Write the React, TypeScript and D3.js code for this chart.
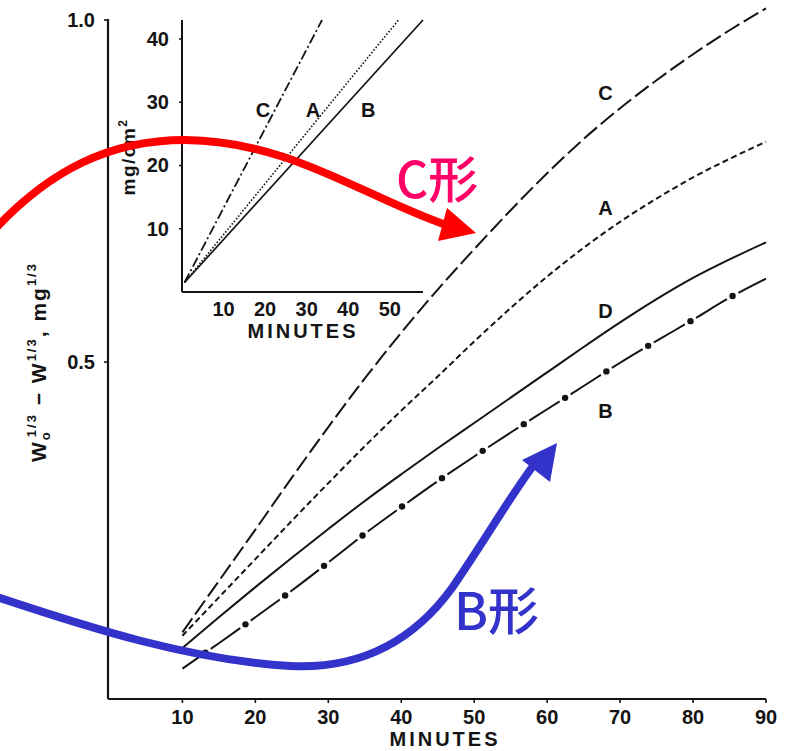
import React, { useEffect, useRef } from "react";
import * as d3 from "d3";

const WIDTH = 787;
const HEIGHT = 751;

// Main panel: W0^(1/3) - W^(1/3) against time, four dissolution curves
const minutes = [10, 15, 20, 25, 30, 35, 40, 45, 50, 55, 60, 65, 70, 75, 80, 85, 90];
const curveC = [0.105, 0.18, 0.255, 0.331, 0.405, 0.476, 0.543, 0.606, 0.665, 0.722, 0.776, 0.826, 0.871, 0.912, 0.95, 0.985, 1.017];
const curveA = [0.1, 0.156, 0.212, 0.268, 0.323, 0.377, 0.429, 0.479, 0.53, 0.579, 0.625, 0.667, 0.705, 0.739, 0.77, 0.797, 0.822];
const curveD = [0.082, 0.127, 0.171, 0.214, 0.256, 0.297, 0.336, 0.374, 0.411, 0.448, 0.485, 0.522, 0.558, 0.592, 0.623, 0.65, 0.675];
const curveB = [0.052, 0.089, 0.127, 0.166, 0.207, 0.249, 0.288, 0.326, 0.362, 0.397, 0.431, 0.465, 0.499, 0.531, 0.562, 0.594, 0.622];

const xTicks = [10, 20, 30, 40, 50, 60, 70, 80, 90];
const yTicks = [0.5, 1.0];

// Curve letters: [name, minutes, value]
const curveLabels: [string, number, number][] = [
  ["C", 68, 0.895],
  ["A", 68, 0.727],
  ["D", 68, 0.576],
  ["B", 68, 0.43],
];

// Inset: cumulative loss (mg/cm2) against time, straight lines
const insetTimeC = [0.6, 33.7];
const insetLossC = [1.5, 43];
const insetTimeA = [0.6, 52.1];
const insetLossA = [1.5, 43];
const insetTimeB = [0.6, 58];
const insetLossB = [1.5, 43];
const insetXTicks = [10, 20, 30, 40, 50];
const insetYTicks = [10, 20, 30, 40];
const insetLabels: [string, number, number][] = [
  ["C", 19.5, 29],
  ["A", 31.5, 29],
  ["B", 44.8, 29],
];

const INK = "#141414";
const FONT = "'Liberation Sans', Arial, Helvetica, sans-serif";
const CJK = "'Noto Sans CJK JP', 'Noto Sans', sans-serif";

export default function App() {
  const ref = useRef<SVGSVGElement>(null);

  useEffect(() => {
    const svg = d3.select(ref.current);
    svg.selectAll("*").remove();

    svg.append("rect").attr("width", WIDTH).attr("height", HEIGHT).attr("fill", "#fff");

    // ---------- main panel ----------
    const x = d3.scaleLinear().domain([-0.2, 90]).range([108, 766]);
    const y = d3.scaleLinear().domain([0.0075, 1]).range([699, 20]);
    const x0 = x.range()[0];
    const yBase = y.range()[0];

    const g = svg.append("g").attr("font-family", FONT).attr("fill", INK);

    g.append("line")
      .attr("x1", x0).attr("x2", x0).attr("y1", y(1) - 1).attr("y2", yBase)
      .attr("stroke", INK).attr("stroke-width", 2.2);
    g.append("line")
      .attr("x1", x0).attr("x2", x(90)).attr("y1", yBase).attr("y2", yBase)
      .attr("stroke", INK).attr("stroke-width", 2.2);

    xTicks.forEach((t) => {
      g.append("line")
        .attr("x1", x(t)).attr("x2", x(t)).attr("y1", yBase).attr("y2", yBase + 4)
        .attr("stroke", INK).attr("stroke-width", 1.6);
      g.append("text")
        .attr("x", x(t)).attr("y", yBase + 25)
        .attr("text-anchor", "middle").attr("font-size", 20).attr("font-weight", "bold")
        .text(t);
    });
    yTicks.forEach((t) => {
      g.append("line")
        .attr("x1", x0 - 4).attr("x2", x0).attr("y1", y(t)).attr("y2", y(t))
        .attr("stroke", INK).attr("stroke-width", 1.6);
      g.append("text")
        .attr("x", x0 - 13).attr("y", y(t) + 7)
        .attr("text-anchor", "end").attr("font-size", 20).attr("font-weight", "bold")
        .text(t.toFixed(1));
    });

    g.append("text")
      .attr("x", 445).attr("y", 746)
      .attr("text-anchor", "middle").attr("font-size", 20).attr("font-weight", "bold")
      .attr("letter-spacing", 3)
      .text("MINUTES");

    // rotated y-axis title with sub/superscripts
    const yt = g.append("text")
      .attr("transform", "translate(46,362) rotate(-90)")
      .attr("text-anchor", "middle").attr("font-size", 21).attr("font-weight", "bold")
      .attr("letter-spacing", 2);
    yt.append("tspan").text("W");
    yt.append("tspan").attr("font-size", 13).attr("dy", 4).text("o");
    yt.append("tspan").attr("font-size", 13).attr("dx", -7).attr("dy", -14).text("1/3");
    yt.append("tspan").attr("dy", 10).text(" \u2212 W");
    yt.append("tspan").attr("font-size", 13).attr("dy", -10).text("1/3");
    yt.append("tspan").attr("dy", 10).text(", mg");
    yt.append("tspan").attr("font-size", 13).attr("dy", -10).text("1/3");

    const line = d3
      .line<number>()
      .x((_, i) => x(minutes[i]))
      .y((d) => y(d))
      .curve(d3.curveMonotoneX);

    const main = svg.append("g").attr("fill", "none").attr("stroke", INK).attr("stroke-width", 2);
    main.append("path").attr("d", line(curveC)).attr("stroke-dasharray", "17 5");
    main.append("path").attr("d", line(curveA)).attr("stroke-dasharray", "6 3.5");
    main.append("path").attr("d", line(curveD));

    // B: long dashes broken by dots
    const dash = 36;
    const gap = 13;
    const period = dash + gap;
    const firstDot = 28;
    const bPath = main.append("path").attr("d", line(curveB))
      .attr("stroke-dasharray", `${dash} ${gap}`)
      .attr("stroke-dashoffset", period - firstDot - gap / 2);
    const bNode = bPath.node() as SVGPathElement;
    const total = bNode.getTotalLength();
    for (let s = firstDot; s < total; s += period) {
      const p = bNode.getPointAtLength(s);
      svg.append("circle").attr("cx", p.x).attr("cy", p.y).attr("r", 3.2).attr("fill", INK);
    }

    curveLabels.forEach(([name, t, v]) => {
      g.append("text")
        .attr("x", x(t)).attr("y", y(v) + 8)
        .attr("text-anchor", "middle").attr("font-size", 20).attr("font-weight", "bold")
        .text(name);
    });

    // ---------- inset ----------
    const ix = d3.scaleLinear().domain([0, 58]).range([182, 423]);
    const iy = d3.scaleLinear().domain([0, 43]).range([292, 20]);
    const ig = svg.append("g").attr("font-family", FONT).attr("fill", INK);

    ig.append("line")
      .attr("x1", ix(0)).attr("x2", ix(0)).attr("y1", iy(43)).attr("y2", iy(0))
      .attr("stroke", INK).attr("stroke-width", 2);
    ig.append("line")
      .attr("x1", ix(0)).attr("x2", ix(58)).attr("y1", iy(0)).attr("y2", iy(0))
      .attr("stroke", INK).attr("stroke-width", 2);

    insetXTicks.forEach((t) => {
      ig.append("text")
        .attr("x", ix(t)).attr("y", iy(0) + 24)
        .attr("text-anchor", "middle").attr("font-size", 20).attr("font-weight", "bold")
        .text(t);
    });
    insetYTicks.forEach((t) => {
      ig.append("line")
        .attr("x1", ix(0) - 3).attr("x2", ix(0)).attr("y1", iy(t)).attr("y2", iy(t))
        .attr("stroke", INK).attr("stroke-width", 1.5);
      ig.append("text")
        .attr("x", ix(0) - 13).attr("y", iy(t) + 7)
        .attr("text-anchor", "end").attr("font-size", 20).attr("font-weight", "bold")
        .text(t);
    });

    ig.append("text")
      .attr("x", 303).attr("y", 338)
      .attr("text-anchor", "middle").attr("font-size", 20).attr("font-weight", "bold")
      .attr("letter-spacing", 3)
      .text("MINUTES");

    const iyt = ig.append("text")
      .attr("transform", "translate(135,157) rotate(-90)")
      .attr("text-anchor", "middle").attr("font-size", 19).attr("font-weight", "bold")
      .attr("letter-spacing", 1.5);
    iyt.append("tspan").text("mg/cm");
    iyt.append("tspan").attr("font-size", 12).attr("dy", -8).text("2");

    const iline = (tx: number[], ly: number[]) =>
      d3.line<number>().x((t) => ix(t)).y((_, i) => iy(ly[i]))(tx);

    const ins = svg.append("g").attr("fill", "none").attr("stroke", INK);
    ins.append("path").attr("d", iline(insetTimeC, insetLossC))
      .attr("stroke-width", 1.8).attr("stroke-dasharray", "10 3 2 3");
    ins.append("path").attr("d", iline(insetTimeA, insetLossA))
      .attr("stroke-width", 1.6).attr("stroke-dasharray", "1.6 1.8");
    ins.append("path").attr("d", iline(insetTimeB, insetLossB))
      .attr("stroke-width", 1.7);

    insetLabels.forEach(([name, t, v]) => {
      ig.append("text")
        .attr("x", ix(t)).attr("y", iy(v) + 8)
        .attr("text-anchor", "middle").attr("font-size", 20).attr("font-weight", "bold")
        .text(name);
    });

    // ---------- call-out arrows ----------
    const red = "#ff0000";
    svg.append("path")
      .attr("d", "M-6,230 C50,170 110,140 185,140 C290,141 360,195 446,225")
      .attr("fill", "none").attr("stroke", red).attr("stroke-width", 8).attr("stroke-linecap", "butt");
    svg.append("path")
      .attr("d", "M476,233 L447,208 L438,241 Z")
      .attr("fill", red);
    svg.append("text")
      .attr("x", 396).attr("y", 198)
      .attr("font-family", CJK).attr("font-size", 50).attr("font-weight", 500)
      .attr("fill", "#ff0066")
      .text("C形");

    const blue = "#3333cc";
    svg.append("path")
      .attr("d", "M-6,596 C90,628 190,660 290,666 C370,670 420,632 452,588 C485,540 508,500 533,466")
      .attr("fill", "none").attr("stroke", blue).attr("stroke-width", 8).attr("stroke-linecap", "butt");
    svg.append("path")
      .attr("d", "M557,443 L522,460 L550,482 Z")
      .attr("fill", blue);
    svg.append("text")
      .attr("x", 454).attr("y", 630)
      .attr("font-family", CJK).attr("font-size", 51).attr("font-weight", 500)
      .attr("fill", blue)
      .text("B形");
  }, []);

  return (
    <svg
      ref={ref}
      width={WIDTH}
      height={HEIGHT}
      style={{ position: "absolute", left: 0, top: 0, display: "block" }}
    />
  );
}
